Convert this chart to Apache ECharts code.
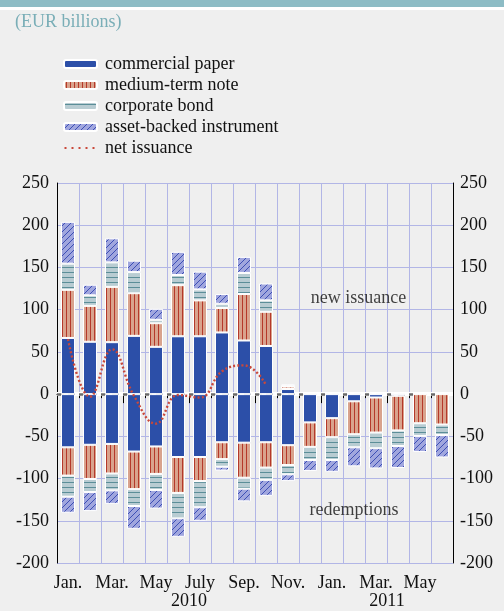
<!DOCTYPE html>
<html>
<head>
<meta charset="utf-8">
<script src="https://cdn.jsdelivr.net/npm/echarts@6/dist/echarts.min.js"></script>
<style>
html,body{margin:0;padding:0;background:#efefef;}
#wrap{position:relative;width:504px;height:611px;}
#gridChart,#chart{position:absolute;left:0;top:0;width:504px;height:611px;}
#band{position:absolute;left:0;top:0;width:504px;height:7px;background:#8dbcc5;z-index:5;}
#band2{position:absolute;left:0;top:7px;width:504px;height:3px;background:#ffffff;z-index:5;}
</style>
</head>
<body>
<div id="wrap"><div id="gridChart"></div><div id="chart"></div><div id="band"></div><div id="band2"></div></div>
<script>
// ---- data (EUR billions) ----
const months = ['Jan.','Feb.','Mar.','Apr.','May','June','July','Aug.','Sep.','Oct.','Nov.','Dec.',
                'Jan.','Feb.','Mar.','Apr.','May','June'];
const years = ['2010', '2011'];
const yTicks = [-200, -150, -100, -50, 0, 50, 100, 150, 200, 250];

// new issuance (positive)
const cpIssue  = [66.5, 62, 61.5, 69, 56, 68.5, 68.5, 73, 63.5, 57, 6, 0, 0, 0, 0, 0, 0, 0];
const mtnIssue = [57, 42.5, 65.5, 50.5, 28, 60.5, 42.5, 29, 55, 40.5, 3, 0, 0, 0, 0, 0, 0, 0];
const cbIssue  = [31, 12.5, 29, 25, 4, 12, 13, 5, 25, 13.5, 1, 0, 0, 0, 0, 0, 0, 0];
const absIssue = [49.5, 12.5, 28.5, 13.5, 13, 27.5, 21, 11.5, 19, 20, 1.5, 0, 0, 0, 0, 0, 0, 0];

// redemptions (negative)
const cpRedeem  = [-63, -60, -59, -68, -62, -74.5, -74.5, -57, -57.5, -57, -60.5, -33.5, -28.5, -8.5, -4, -2, 0, 0];
const mtnRedeem = [-33.5, -40.5, -35, -44.5, -32.5, -42.5, -28.5, -20, -41.5, -30, -23.5, -29, -22.5, -39, -41.5, -41, -34.5, -36];
const cbRedeem  = [-25, -15.5, -20, -20, -19, -30, -31, -9, -13, -14.5, -11, -15.5, -27, -15.5, -18.5, -18.5, -15, -12.5];
const absRedeem = [-19, -22.5, -16, -27, -22, -22, -16, -4.5, -15, -19, -8, -13, -14, -22.5, -24, -26, -19, -26.5];

// net issuance line
const netIssuance = [65, -3, 53, -2, -35, -1, -4, 27, 34, 11, null, null, null, null, null, null, null, null];

// annotations: [month position, value, text]
const annotations = [[13.7, 114, 'new issuance'], [13.5, -137, 'redemptions']];

// ---- styles ----
const FONT = "'Liberation Serif', 'Times New Roman', serif";
function pattern(bg, fg, kind) {
  const c = document.createElement('canvas');
  const s = kind === 'v' ? 4 : (kind === 'h' ? 5 : 6);
  c.width = s; c.height = s;
  const g = c.getContext('2d');
  g.fillStyle = bg; g.fillRect(0, 0, s, s);
  g.fillStyle = fg; g.strokeStyle = fg;
  if (kind === 'v') { g.fillRect(2, 0, 1, s); }
  else if (kind === 'h') { g.fillRect(0, 2, s, 1); }
  else {
    g.lineWidth = 1;
    g.beginPath();
    g.moveTo(0, s); g.lineTo(s, 0);
    g.moveTo(-1, 1); g.lineTo(1, -1);
    g.moveTo(s - 1, s + 1); g.lineTo(s + 1, s - 1);
    g.stroke();
  }
  return { image: c, repeat: 'repeat' };
}
const colCP = '#2c4fa8';
const colMTN = pattern('#d9a38d', '#b5392a', 'v');
const colCB = pattern('#b8ccd2', '#5b8e98', 'h');
const colABS = pattern('#a0a6de', '#3d4fb5', 'd');
const GRID = '#b2b6e6';
const gridBox = { left: 57, right: 51, top: 183, bottom: 48 };

// ---- background instance: grid lines only ----
const gridChart = echarts.init(document.getElementById('gridChart'), null, { renderer: 'canvas' });
gridChart.setOption({
  backgroundColor: '#efefef',
  animation: false,
  grid: gridBox,
  xAxis: {
    type: 'category', data: months, boundaryGap: true,
    axisLine: { show: false }, axisTick: { show: false }, axisLabel: { show: false },
    splitLine: { show: true, interval: 0, lineStyle: { color: GRID, width: 1 } }
  },
  yAxis: {
    type: 'value', min: yTicks[0], max: yTicks[yTicks.length - 1], interval: 50,
    axisLine: { show: false }, axisTick: { show: false }, axisLabel: { show: false },
    splitLine: { show: true, lineStyle: { color: GRID, width: 1 } }
  },
  series: [{ type: 'bar', data: [] }]
});

// ---- main instance ----
function barSeries(name, data, color) {
  return {
    name: name, type: 'bar', stack: 'all', data: data,
    barWidth: 14, z: 2,
    itemStyle: { color: color, borderColor: '#ffffff', borderWidth: 1 }
  };
}

const dotIcon = 'path://M0,0h0.01v0.01h-0.01z M32.99,7.99h0.01v0.01h-0.01z ' +
  'M0.5,3h2v2h-2z M7.5,3h2v2h-2z M14.5,3h2v2h-2z M21.5,3h2v2h-2z M28.5,3h2v2h-2z';

const chart = echarts.init(document.getElementById('chart'), null, { renderer: 'canvas' });

const option = {
  backgroundColor: 'transparent',
  animation: false,
  title: {
    text: '(EUR billions)', left: 15, top: 13, padding: 0,
    textStyle: { color: '#7aaeb7', fontSize: 18, fontWeight: 'normal', fontFamily: FONT }
  },
  legend: {
    left: 58, top: 50, orient: 'vertical',
    itemWidth: 33, itemHeight: 8, itemGap: 3,
    textStyle: { fontSize: 18, fontFamily: FONT, color: '#111', lineHeight: 18, padding: [0, 0, 0, 3] },
    data: ['commercial paper', 'medium-term note', 'corporate bond', 'asset-backed instrument',
           { name: 'net issuance', icon: dotIcon }],
    selectedMode: false
  },
  grid: gridBox,
  xAxis: [
    {
      type: 'category', data: months, position: 'bottom', boundaryGap: true,
      axisLine: { show: true, lineStyle: { color: '#000', width: 1 } },
      axisTick: { show: true, interval: 0, length: 4, lineStyle: { color: '#000' } },
      axisLabel: { interval: 1, color: '#111', fontSize: 18, fontFamily: FONT, margin: 11 },
      splitLine: { show: false }
    },
    {
      type: 'value', min: 0, max: 18, interval: 3, position: 'bottom', offset: 0,
      axisLine: { show: false },
      axisTick: { show: true, length: 9, lineStyle: { color: '#000' } },
      axisLabel: {
        show: true, color: '#111', fontSize: 18, fontFamily: FONT, margin: 29,
        formatter: function (v) { return v === 6 ? years[0] : (v === 15 ? years[1] : ''); }
      },
      splitLine: { show: false }
    }
  ],
  yAxis: [
    {
      type: 'value', min: yTicks[0], max: yTicks[yTicks.length - 1], interval: 50, position: 'left',
      axisLine: { show: true, lineStyle: { color: '#000', width: 1 } },
      axisTick: { show: false },
      axisLabel: { color: '#111', fontSize: 18, fontFamily: FONT, margin: 8 },
      splitLine: { show: false }
    },
    {
      type: 'value', min: yTicks[0], max: yTicks[yTicks.length - 1], interval: 50, position: 'right',
      axisLine: { show: true, lineStyle: { color: '#000', width: 1 } },
      axisTick: { show: false },
      axisLabel: { color: '#111', fontSize: 18, fontFamily: FONT, margin: 7 },
      splitLine: { show: false }
    }
  ],
  series: [
    {
      name: 'notes', type: 'scatter', xAxisIndex: 1, yAxisIndex: 0, z: 1, silent: true,
      data: annotations, symbolSize: 0,
      label: {
        show: true, position: 'inside', color: '#111', fontSize: 18, fontFamily: FONT,
        formatter: function (p) { return p.data[2]; }
      },
      markLine: {
        silent: true, symbol: 'none', z: 1, label: { show: false },
        data: [
          { yAxis: 0, lineStyle: { color: '#ffffff', width: 4, type: 'solid' } },
          { yAxis: 0, lineStyle: { color: '#6a6a6a', width: 2.5, type: [7, 4] } }
        ]
      }
    },
    barSeries('commercial paper', cpIssue, colCP),
    barSeries('medium-term note', mtnIssue, colMTN),
    barSeries('corporate bond', cbIssue, colCB),
    barSeries('asset-backed instrument', absIssue, colABS),
    barSeries('commercial paper', cpRedeem, colCP),
    barSeries('medium-term note', mtnRedeem, colMTN),
    barSeries('corporate bond', cbRedeem, colCB),
    barSeries('asset-backed instrument', absRedeem, colABS),
    {
      name: 'net issuance', type: 'line', data: netIssuance, z: 4,
      smooth: 0.45, symbol: 'none', connectNulls: false,
      itemStyle: { color: '#c9483a' },
      lineStyle: { color: '#c9483a', width: 2.4, type: [2, 2.2] }
    }
  ]
};
chart.setOption(option);
</script>
</body>
</html>
